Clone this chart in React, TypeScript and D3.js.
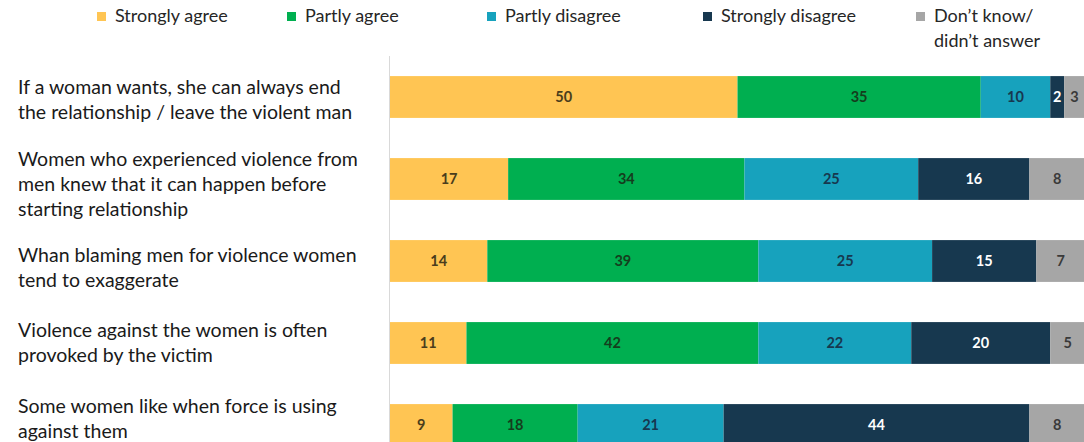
import React from "react";
import * as d3 from "d3";

const statements: string[][] = [
  ["If a woman wants, she can always end", "the relationship / leave the violent man"],
  ["Women who experienced violence from", "men knew that it can happen before", "starting relationship"],
  ["Whan blaming men for violence women", "tend to exaggerate"],
  ["Violence against the women is often", "provoked by the victim"],
  ["Some women like when force is using", "against them"],
];

const seriesNames = ["Strongly agree", "Partly agree", "Partly disagree", "Strongly disagree", "Don’t know/ didn’t answer"];

const stronglyAgree = [50, 17, 14, 11, 9];
const partlyAgree = [35, 34, 39, 42, 18];
const partlyDisagree = [10, 25, 25, 22, 21];
const stronglyDisagree = [2, 16, 15, 20, 44];
const dontKnow = [3, 8, 7, 5, 8];

const seriesValues = [stronglyAgree, partlyAgree, partlyDisagree, stronglyDisagree, dontKnow];
const colors = ["#FFC553", "#00AF50", "#17A2BD", "#17384F", "#A6A6A6"];
const labelColors = ["#4a3d1c", "#153d1d", "#17384F", "#ffffff", "#3a3a3a"];
const labelShift = [2.5, 5, 6.5, 0, -6.5];

const W = 1084;
const H = 442;

export default function App() {
  const x = d3.scaleLinear().domain([0, 100]).range([390, 1085]);
  const y = d3
    .scaleBand<number>()
    .domain(d3.range(statements.length))
    .range([56, 466])
    .paddingInner(0.49)
    .paddingOuter(0.245);

  const table = statements.map((_, i) => {
    const row: Record<string, number> = {};
    seriesNames.forEach((s, j) => (row[s] = seriesValues[j][i]));
    return row;
  });
  const stacked = d3.stack<Record<string, number>>().keys(seriesNames)(table);

  const legendX = [97, 287, 487, 703, 916];
  const font = "Lato, 'Open Sans', sans-serif";

  return (
    <svg
      width={W}
      height={H}
      style={{ position: "absolute", left: 0, top: 0, background: "#fff" }}
      fontFamily={font}
    >
      {/* legend */}
      {seriesNames.map((s, j) => {
        const lines = j === 4 ? ["Don’t know/", "didn’t answer"] : [s];
        return (
          <g key={s}>
            <rect x={legendX[j]} y={12} width={9} height={9} fill={colors[j]} />
            {lines.map((l, k) => (
              <text key={k} x={legendX[j] + 18} y={22 + k * 25} fontSize={18} fill="#262626">
                {l}
              </text>
            ))}
          </g>
        );
      })}

      {/* axis line */}
      <line x1={389.5} x2={389.5} y1={56} y2={H} stroke="#d9d9d9" strokeWidth={1} />

      {/* category labels */}
      {statements.map((lines, i) => {
        const cy = (y(i) as number) + y.bandwidth() / 2;
        const lh = 25;
        const top = cy - ((lines.length - 1) * lh) / 2 + labelShift[i];
        return (
          <text key={i} fontSize={19.5} fill="#1a1a1a">
            {lines.map((l, k) => (
              <tspan key={k} x={18} y={top + k * lh + 6.5}>
                {l}
              </tspan>
            ))}
          </text>
        );
      })}

      {/* bars */}
      {stacked.map((layer, j) => (
        <g key={layer.key}>
          {layer.map((d, i) => {
            const x0 = x(d[0]);
            const x1 = x(d[1]);
            const yy = y(i) as number;
            return (
              <g key={i}>
                <rect x={x0} y={yy} width={x1 - x0} height={y.bandwidth()} fill={colors[j]} />
                <text
                  x={(x0 + x1) / 2}
                  y={yy + y.bandwidth() / 2}
                  dy="0.35em"
                  textAnchor="middle"
                  fontSize={14.5}
                  fontWeight="bold"
                  fill={labelColors[j]}
                >
                  {seriesValues[j][i]}
                </text>
              </g>
            );
          })}
        </g>
      ))}
    </svg>
  );
}
